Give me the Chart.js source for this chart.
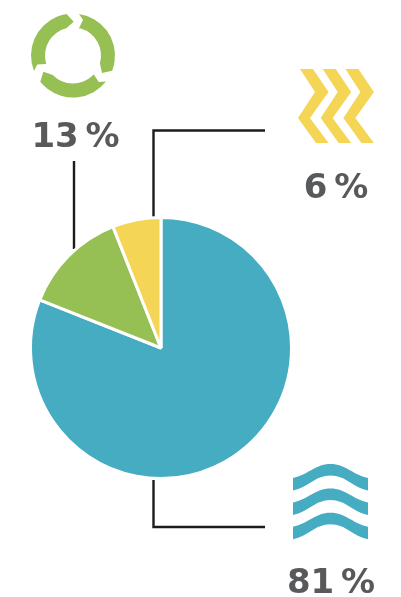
<!DOCTYPE html>
<html>
<head>
<meta charset="utf-8">
<title>Pie</title>
<script src="https://cdn.jsdelivr.net/npm/chart.js@4"></script>
<style>
  html, body { margin: 0; padding: 0; background: #fff; }
  canvas { display: block; }
</style>
</head>
<body>
<canvas id="pie" width="401" height="597"></canvas>
<script>
// slices, clockwise from twelve o'clock
var sliceNames = ['water', 'recycle', 'chevrons'];
var sliceValues = [81, 13, 6];
var sliceColors = ['#46acc2', '#97c054', '#f5d556'];

var inkColor = '#58595b';
var lineColor = '#1b1b20';

function drawLeaders(ctx) {
    ctx.strokeStyle = lineColor;
    ctx.lineWidth = 2.4;
    ctx.beginPath();
    ctx.moveTo(74, 161); ctx.lineTo(74, 249);
    ctx.moveTo(265, 130.5); ctx.lineTo(153.5, 130.5); ctx.lineTo(153.5, 217);
    ctx.moveTo(153.5, 480); ctx.lineTo(153.5, 527); ctx.lineTo(265, 527);
    ctx.stroke();
}

// three arrows chasing each other round a ring
function drawRecycle(ctx, color) {
    var R = 42, r = 28;
    ctx.fillStyle = color;
    for (var i = 0; i < 3; i++) {
        ctx.save();
        ctx.translate(73, 55.5);
        ctx.rotate(i * 2 * Math.PI / 3);
        ctx.beginPath();
        ctx.arc(0, 0, R, Math.atan2(-41.5, 6), Math.atan2(15.5, 40));
        ctx.lineTo(29, 17.5);
        ctx.arc(0, 0, r, Math.atan2(7.5, 26), Math.atan2(-27.5, 6), true);
        ctx.lineTo(10, -35.5);
        ctx.closePath();
        ctx.fill();
        ctx.restore();
    }
}

function drawChevrons(ctx, color) {
    ctx.fillStyle = color;
    for (var i = 0; i < 3; i++) {
        ctx.save();
        ctx.translate(i * 22.7, 0);
        ctx.beginPath();
        ctx.moveTo(300, 69);
        ctx.lineTo(313, 69);
        ctx.lineTo(328.5, 92);
        ctx.lineTo(310, 118);
        ctx.lineTo(328.5, 143);
        ctx.lineTo(316, 143);
        ctx.lineTo(298, 118);
        ctx.lineTo(315, 92);
        ctx.closePath();
        ctx.fill();
        ctx.restore();
    }
}

function drawWaves(ctx, color) {
    ctx.fillStyle = color;
    for (var i = 0; i < 3; i++) {
        ctx.save();
        ctx.translate(0, i * 24.4);
        ctx.beginPath();
        ctx.moveTo(293, 478);
        ctx.bezierCurveTo(308, 475, 315, 464, 330.5, 464);
        ctx.bezierCurveTo(346, 464, 353, 475, 368, 478);
        ctx.lineTo(368, 490.5);
        ctx.bezierCurveTo(353, 487.5, 346, 475.5, 330.5, 475.5);
        ctx.bezierCurveTo(315, 475.5, 308, 487.5, 293, 490.5);
        ctx.closePath();
        ctx.fill();
        ctx.restore();
    }
}

var decorations = {
    id: 'decorations',
    beforeDatasetsDraw: function(chart) {
        drawLeaders(chart.ctx);
    },
    afterDatasetsDraw: function(chart) {
        var ctx = chart.ctx;
        ctx.save();
        drawWaves(ctx, sliceColors[0]);
        drawRecycle(ctx, sliceColors[1]);
        drawChevrons(ctx, sliceColors[2]);

        // percent labels come straight from the values
        var labelPos = [[331, 593], [75.5, 147], [336, 197.5]];
        ctx.fillStyle = inkColor;
        ctx.font = 'bold 34px "DejaVu Sans"';
        ctx.textAlign = 'center';
        ctx.textBaseline = 'alphabetic';
        sliceValues.forEach(function(v, i) {
            ctx.fillText(v + '\u2009%', labelPos[i][0], labelPos[i][1]);
        });
        ctx.restore();
    }
};

new Chart(document.getElementById('pie'), {
    type: 'pie',
    data: {
        labels: sliceNames,
        datasets: [{
            data: sliceValues,
            backgroundColor: sliceColors,
            borderColor: '#ffffff',
            borderWidth: 3
        }]
    },
    options: {
        responsive: false,
        animation: false,
        layout: { padding: { left: 29, right: 108, top: 216, bottom: 117 } },
        plugins: {
            legend: { display: false },
            tooltip: { enabled: false }
        }
    },
    plugins: [decorations]
});
</script>
</body>
</html>
